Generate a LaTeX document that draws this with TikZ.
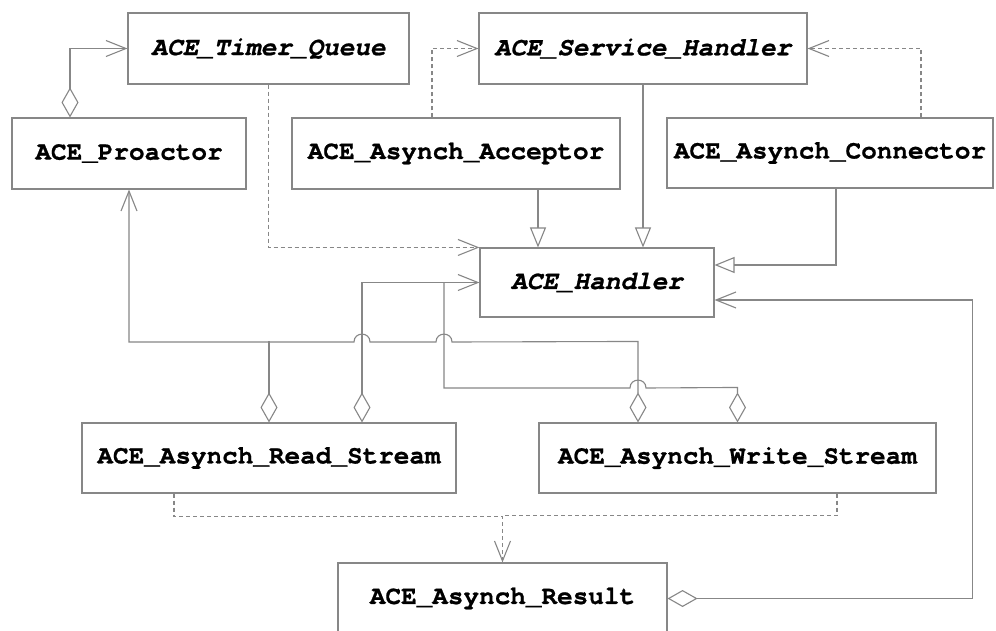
\documentclass[tikz,border=0pt]{standalone}
\usepackage{fontspec}
\setmonofont{texgyrecursor}[
  Extension=.otf,
  UprightFont=*-bold,
  BoldFont=*-bold,
  ItalicFont=*-bolditalic,
  BoldItalicFont=*-bolditalic,
  FakeBold=0.8]
\usetikzlibrary{arrows.meta,calc}
\definecolor{linegray}{RGB}{135,135,135}
\tikzset{
  cls/.style={draw=linegray, line width=1.1pt, rectangle, inner sep=0pt,
              font=\fontsize{26pt}{30pt}\selectfont\ttfamily\bfseries},
  abs/.style={cls, font=\fontsize{26pt}{30pt}\selectfont\ttfamily\bfseries\itshape},
  conn/.style={draw=linegray, line width=1.1pt},
  openarrow/.style={conn, -{Straight Barb[length=20pt,width=16pt,line width=1.1pt]}},
  dep/.style={openarrow, dash pattern=on 4pt off 3pt},
  dashline/.style={conn, dash pattern=on 4pt off 3pt},
  gen/.style={conn, -{Triangle[open,length=20pt,width=16pt,line width=1.1pt]}},
  agg/.style={conn, {Diamond[open,length=30pt,width=17pt,line width=1.1pt]}-{Straight Barb[length=20pt,width=16pt,line width=1.1pt]}},
  aggtail/.style={conn, {Diamond[open,length=30pt,width=17pt,line width=1.1pt]}-},
}
\begin{document}
\begin{tikzpicture}[x=1pt,y=-1pt]
  \path[use as bounding box, clip] (0,0) rectangle (996,630);
  \fill[white] (0,0) rectangle (996,630);

  % classes
  \node[abs, minimum width=281pt, minimum height=71pt] (tq)  at (268.5,48.5) {ACE\_Timer\_Queue};
  \node[abs, minimum width=328pt, minimum height=71pt] (sh)  at (643,48.5)   {ACE\_Service\_Handler};
  \node[cls, minimum width=234pt, minimum height=71pt] (pro) at (129,153.5)  {ACE\_Proactor};
  \node[cls, minimum width=328pt, minimum height=71pt] (acc) at (456,153.5)  {ACE\_Asynch\_Acceptor};
  \node[cls, minimum width=326pt, minimum height=70pt] (con) at (830,153)    {ACE\_Asynch\_Connector};
  \node[abs, minimum width=234pt, minimum height=69pt] (han) at (597,282.5)  {ACE\_Handler};
  \node[cls, minimum width=374pt, minimum height=70pt] (rs)  at (269,458)    {ACE\_Asynch\_Read\_Stream};
  \node[cls, minimum width=397pt, minimum height=70pt] (ws)  at (737.5,458)  {ACE\_Asynch\_Write\_Stream};
  \node[cls, minimum width=329pt, minimum height=71pt] (res) at (502.5,598.5){ACE\_Asynch\_Result};

  % proactor owns the timer queue
  \draw[agg] ([xshift=-59pt]pro.north) |- (tq.west);

  % dependencies
  \draw[dep] (tq.south) |- (han.north west);
  \draw[dep] ([xshift=-24pt]acc.north) |- (sh.west);
  \draw[dep] ([xshift=91pt]con.north) |- (sh.east);

  % generalizations towards ACE_Handler
  \draw[gen] ([xshift=82pt]acc.south) -- ([xshift=82pt]acc.south |- han.north);
  \draw[gen] (sh.south) -- (sh.south |- han.north);
  \draw[gen] ([xshift=6pt]con.south) |- ([yshift=17.5pt]han.east);

  % result refers to its handler
  \draw[agg] (res.east) -- ++(305,0) |- ([yshift=-17.5pt]han.east);

  % streams to the proactor (with hops over the handler lines)
  \draw[agg] ([xshift=-99.5pt]ws.north) -- ++(0,-81) -- (452,342)
     .. controls (452,331.5) and (436,331.5) .. (436,342) -- (370,342)
     .. controls (370,331.5) and (354,331.5) .. (354,342) -| (pro.south);
  \draw[aggtail] (rs.north) -- ++(0,-81);

  % streams to the handler
  \draw[agg] ([xshift=93pt]rs.north) |- (han.west);
  \draw[aggtail] (ws.north) -- ++(0,-35) -- (646,388)
     .. controls (646,377.5) and (630,377.5) .. (630,388) -- (444,388) -- (444,282.5);

  % streams create results
  \draw[dep] ([xshift=-95pt]rs.south) -- ++(0,23) -| (res.north);
  \draw[dashline] ([xshift=99.5pt]ws.south) |- ($(res.north)+(0,-47)$);
\end{tikzpicture}
\end{document}
